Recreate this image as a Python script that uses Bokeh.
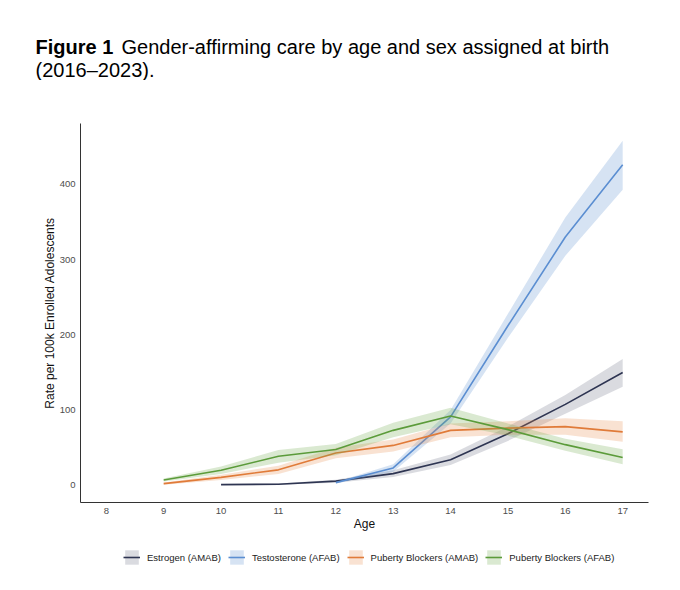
from bokeh.plotting import figure
from bokeh.models import Legend, LegendItem, FixedTicker, Range1d
from bokeh.layouts import column
from bokeh.core.properties import value
from bokeh.embed import file_html
from bokeh.resources import INLINE

# ---- data ----
est_age = [10, 11, 12, 13, 14, 15, 16, 17]
est_rate = [0.9, 1.3, 5.5, 15.5, 34, 68.5, 107.5, 150]
est_lo = [0.3, 0.6, 3.5, 11, 27, 59, 95, 131]
est_hi = [1.6, 2.2, 7.5, 20, 41, 78, 120, 168]

tes_age = [12, 13, 14, 15, 16, 17]
tes_rate = [3.5, 23, 91, 212, 330, 426]
tes_lo = [2.5, 18, 82, 196, 305, 393]
tes_hi = [4.5, 28, 100, 228, 356, 458]

pbm_age = [9, 10, 11, 12, 13, 14, 15, 16, 17]
pbm_rate = [2.2, 10.5, 20.5, 43, 53, 73, 76, 78, 71]
pbm_lo = [0.8, 7, 15, 36, 45, 64, 67, 67, 58]
pbm_hi = [3.6, 14, 26, 50, 61, 82, 85, 89, 85]

pbf_age = [9, 10, 11, 12, 13, 14, 15, 16, 17]
pbf_rate = [7, 20, 38.5, 47.5, 73, 92, 74, 54, 37]
pbf_lo = [5, 15, 30, 40, 64, 81, 66, 46, 28]
pbf_hi = [9, 25, 47, 55, 83, 103, 82, 62, 48]

x_ticks = [8, 9, 10, 11, 12, 13, 14, 15, 16, 17]
y_ticks = [0, 100, 200, 300, 400]

series_names = ["Estrogen (AMAB)", "Testosterone (AFAB)",
                "Puberty Blockers (AMAB)", "Puberty Blockers (AFAB)"]
line_colors = ["#2e3552", "#5b8ed1", "#e07b39", "#5b9b3a"]
band_colors = ["#6d7184", "#5b8ed1", "#e88a4a", "#6aa848"]

title_bold = "Figure 1"
title_rest = "Gender-affirming care by age and sex assigned at birth"
title_line2 = "(2016\u20132023)."

FONT = "Liberation Sans"
W = 680
TH = 80      # title strip height
LH = 50      # legend strip height
MH = 590 - TH - LH
NAN = float("nan")


def bare_figure(h, yr):
    f = figure(width=W, height=h, output_backend="svg", toolbar_location=None,
               x_range=Range1d(0, W), y_range=yr,
               x_axis_type=None, y_axis_type=None, frame_align=False,
               min_border=0, min_border_left=0, min_border_right=0,
               min_border_top=0, min_border_bottom=0)
    f.outline_line_color = None
    f.xgrid.visible = False
    f.ygrid.visible = False
    return f


# ---- title strip (pixel coordinates, y downward) ----
tf = bare_figure(TH, Range1d(TH, 0))
txt = dict(text_font=value(FONT), text_font_size="20px", text_color="black",
           text_baseline="alphabetic", text_align="left")
tf.text(x=[35], y=[46], text=[title_bold], text_font_style="bold", **txt)
tf.text(x=[121], y=[46], text=[title_rest], **txt)
tf.text(x=[35], y=[69], text=[title_line2], **txt)

# ---- main chart ----
p = figure(width=W, height=MH, output_backend="svg", toolbar_location=None,
           frame_align=False,
           min_border_left=80, min_border_right=32, min_border_top=123 - TH,
           min_border_bottom=(TH + MH) - 502,
           x_range=Range1d(7.55, 17.45), y_range=Range1d(-22.9, 480.9))
p.outline_line_color = None
p.xgrid.visible = False
p.ygrid.visible = False

series = [
    (est_age, est_rate, est_lo, est_hi),
    (tes_age, tes_rate, tes_lo, tes_hi),
    (pbm_age, pbm_rate, pbm_lo, pbm_hi),
    (pbf_age, pbf_rate, pbf_lo, pbf_hi),
]
for (ax, r, lo, hi), lc, bc in zip(series, line_colors, band_colors):
    p.varea(x=ax, y1=lo, y2=hi, fill_color=bc, fill_alpha=0.25)
    p.line(x=ax, y=r, line_color=lc, line_width=1.6)

for axis in (p.xaxis[0], p.yaxis[0]):
    axis.axis_line_color = "#333333"
    axis.axis_line_width = 1
    axis.major_tick_out = 0
    axis.major_tick_in = 0
    axis.minor_tick_out = 0
    axis.minor_tick_in = 0
    axis.major_label_text_font = FONT
    axis.major_label_text_font_size = "9.5px"
    axis.major_label_text_color = "#4d4d4d"
    axis.axis_label_text_font = FONT
    axis.axis_label_text_font_size = "12px"
    axis.axis_label_text_font_style = "normal"
    axis.axis_label_text_color = "#111111"
    axis.major_label_standoff = 5

p.xaxis.ticker = FixedTicker(ticks=x_ticks)
p.yaxis.ticker = FixedTicker(ticks=y_ticks)
p.xaxis.axis_label = "Age"
p.yaxis.axis_label = "Rate per 100k Enrolled Adolescents"
p.xaxis.axis_label_standoff = 0
p.yaxis.axis_label_standoff = 0

# ---- legend strip (key stand-ins hold a single NaN, so they draw nothing) ----
lf = bare_figure(LH, Range1d(0, LH))
items = []
for name, lc, bc in zip(series_names, line_colors, band_colors):
    kb = lf.varea(x=[NAN], y1=[NAN], y2=[NAN], fill_color=bc, fill_alpha=0.25)
    kl = lf.line(x=[NAN], y=[NAN], line_color=lc, line_width=1.6)
    items.append(LegendItem(label=name, renderers=[kb, kl]))
legend = Legend(items=items, orientation="horizontal", location=(123, 24),
                glyph_width=17, glyph_height=18, label_standoff=7, spacing=7,
                padding=0, margin=0, border_line_color=None,
                background_fill_alpha=0,
                label_text_font=FONT, label_text_font_size="9.5px",
                label_text_color="#222222")
lf.add_layout(legend, "center")

layout = column(tf, p, lf, spacing=0)
open("out.html", "w").write(file_html(layout, INLINE))
